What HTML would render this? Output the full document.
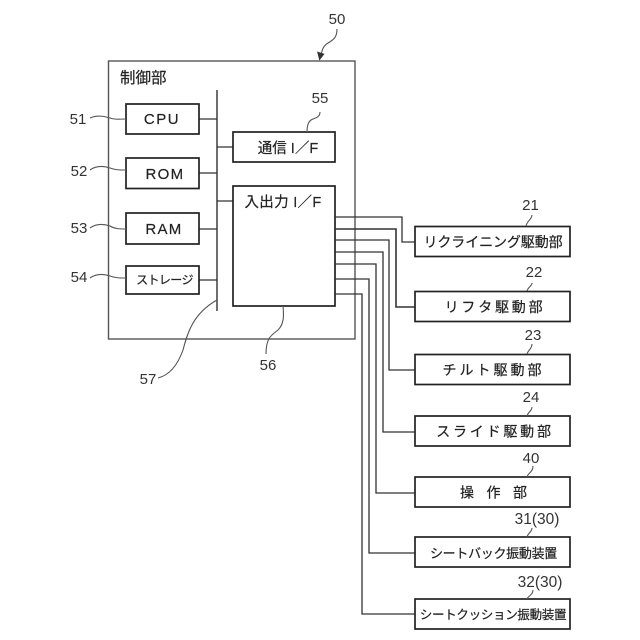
<!DOCTYPE html>
<html><head><meta charset="utf-8">
<style>
html,body{margin:0;padding:0;background:#fff;width:640px;height:640px;overflow:hidden}
svg{display:block}
text{font-family:"Liberation Sans","Noto Sans CJK JP",sans-serif;fill:#222}
.b{fill:#fff;stroke:#222;stroke-width:1.7}
.l{fill:none;stroke:#333;stroke-width:1.3}
.g{fill:none;stroke:#555;stroke-width:1.1}
.n{font-size:15px;text-anchor:middle;fill:#333}
.t{font-size:14px;text-anchor:middle;stroke:#222;stroke-width:.2}
</style></head><body>
<svg width="640" height="640" viewBox="0 0 640 640" xmlns="http://www.w3.org/2000/svg">
<rect x="108.500" y="61" width="246.500" height="278" fill="#fff" stroke="#555" stroke-width="1.4"/>
<text x="120" y="83" font-size="15.500" style="stroke:#222;stroke-width:.2">制御部</text>

<path class="l" d="M217 90V311" style="stroke-width:1.7;stroke:#555"/>
<path class="l" d="M199 119H217M199 173H217M199 229H217M199 280H217M217 147H233M217 201H233"/>

<rect class="b" x="126" y="104" width="73" height="30"/>
<rect class="b" x="126" y="158" width="73" height="30.500"/>
<rect class="b" x="126" y="213" width="73" height="31"/>
<rect class="b" x="126" y="266" width="73" height="28"/>
<rect class="b" x="233" y="132" width="102" height="30"/>
<rect class="b" x="233" y="186" width="102" height="120"/>

<text class="t" x="162" y="124" style="font-size:15px" letter-spacing="1.500">CPU</text>
<text class="t" x="165" y="179" style="font-size:15px" letter-spacing="1.300">ROM</text>
<text class="t" x="164" y="234" style="font-size:15px" letter-spacing="1.300">RAM</text>
<text class="t" x="164.500" y="284" style="font-size:12px" letter-spacing="-0.600">ストレージ</text>
<text class="t" x="288" y="153" style="font-size:14.500px">通信 I／F</text>
<text class="t" x="283" y="207" style="font-size:14.500px" letter-spacing="0.300">入出力 I／F</text>

<path class="l" d="M335 217H402V242H415"/>
<path class="l" d="M335 229H396V307H415" style="stroke-width:1.600"/>
<path class="l" d="M335 240H389V370H415"/>
<path class="l" d="M335 252H383V432H415"/>
<path class="l" d="M335 264H376V493H415"/>
<path class="l" d="M335 279H369V553H415"/>
<path class="l" d="M335 294H362V614H415"/>

<rect class="b" x="415" y="226.500" width="155" height="30"/>
<rect class="b" x="415" y="291.500" width="155" height="30"/>
<rect class="b" x="415" y="354.500" width="155" height="30"/>
<rect class="b" x="415" y="416" width="155" height="30"/>
<rect class="b" x="415" y="477" width="155" height="30"/>
<rect class="b" x="415" y="537" width="155" height="30"/>
<rect class="b" x="415" y="599" width="155" height="30"/>

<text class="t" x="493" y="247" letter-spacing="-0.100">リクライニング駆動部</text>
<text class="t" x="495" y="312" letter-spacing="2.800">リフタ駆動部</text>
<text class="t" x="493.500" y="375" letter-spacing="3">チルト駆動部</text>
<text class="t" x="495" y="436.500" letter-spacing="2.800">スライド駆動部</text>
<text class="t" x="460" y="497.500" letter-spacing="12.500" style="text-anchor:start">操作部</text>
<text class="t" x="493.500" y="558" style="font-size:13px" letter-spacing="-0.300">シートバック振動装置</text>
<text class="t" x="493" y="619" style="font-size:12.500px" letter-spacing="-0.300">シートクッション振動装置</text>

<text class="n" x="337" y="24">50</text>
<path class="g" d="M337 29C337 38 333 40 328 43C323 46 322 50 320.500 57"/>
<path d="M319.500 60L317.500 52L324 54Z" fill="#333" stroke="#333" stroke-width=".6"/>

<text class="n" x="320" y="103">55</text>
<path class="g" d="M320 112C320 118 314 118 311 120C308 122 307 126 307 132"/>

<text class="n" x="78" y="124">51</text>
<path class="g" d="M90 118C97 115 103 116 110 118C115 120 120 119 126 119"/>
<text class="n" x="79" y="176">52</text>
<path class="g" d="M90 170C97 165 104 166 110 168C115 170 120 170 126 170"/>
<text class="n" x="79" y="233">53</text>
<path class="g" d="M90 228C97 223 104 224 110 226C115 229 120 229 126 229"/>
<text class="n" x="79" y="282">54</text>
<path class="g" d="M90 278C97 273 104 274 110 276C115 278 120 278 126 278"/>

<text class="n" x="148" y="384">57</text>
<path class="g" d="M158 378C170 375 178 364 183 350C187 335 192 314 217 300"/>
<text class="n" x="268" y="370">56</text>
<path class="g" d="M283 306C284 316 284 324 278 330C272 335 266 337 266 354"/>

<text class="n" x="530.500" y="210">21</text>
<path class="g" d="M532 215C532 219 527 221 526 226"/>
<text class="n" x="534" y="277">22</text>
<path class="g" d="M532 283C532 286 528 287 527 291"/>
<text class="n" x="533" y="340">23</text>
<path class="g" d="M532 344C532 349 528 350 527 354"/>
<text class="n" x="531" y="402">24</text>
<path class="g" d="M532 407C532 411 528 412 527 416"/>
<text class="n" x="531" y="463">40</text>
<path class="g" d="M533 466C533 472 528 473 527 477"/>
<text class="n" x="537" y="524" style="font-size:15.500px">31(30)</text>
<path class="g" d="M532 528C532 532 528 533 527 537"/>
<text class="n" x="540" y="587" style="font-size:15.500px">32(30)</text>
<path class="g" d="M533 590C533 595 528 596 527 599"/>
</svg>
</body></html>
